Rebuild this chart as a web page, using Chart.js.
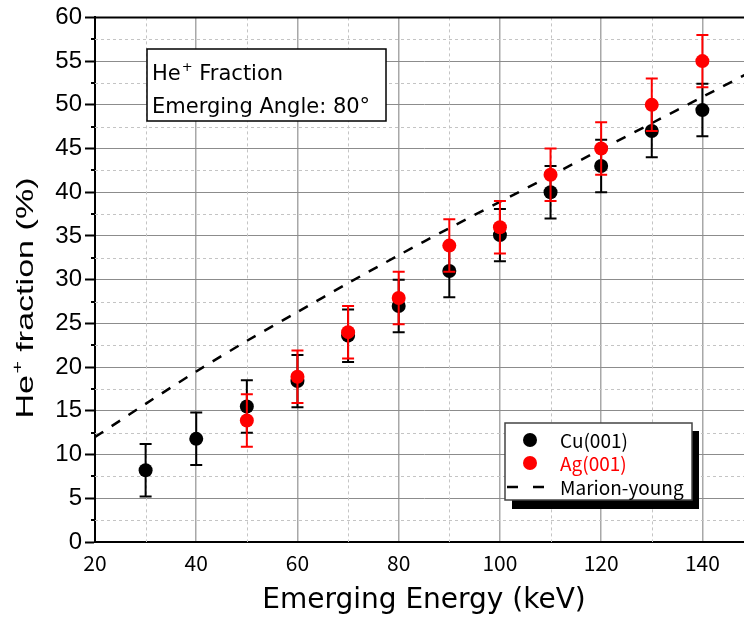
<!DOCTYPE html>
<html>
<head>
<meta charset="utf-8">
<title>He+ fraction</title>
<script src="https://cdn.jsdelivr.net/npm/chart.js@4.4.1/dist/chart.umd.min.js"></script>
<style>
  html, body { margin: 0; padding: 0; overflow: hidden; background: #fff; }
  #wrap { width: 760px; height: 618px; }
</style>
</head>
<body>
<div id="wrap"><canvas id="fraction-chart" width="760" height="618"></canvas></div>
<script>
// values
const cuEnergy = [30, 40, 50, 60, 70, 80, 90, 100, 110, 120, 130, 140];
const cuFraction = [8.2, 11.8, 15.5, 18.4, 23.6, 27.0, 31.0, 35.1, 40.0, 43.0, 47.0, 49.4];
const cuError = [3, 3, 3, 3, 3, 3, 3, 3, 3, 3, 3, 3];

const agEnergy = [50, 60, 70, 80, 90, 100, 110, 120, 130, 140];
const agFraction = [13.9, 18.9, 24.0, 27.9, 33.9, 36.0, 42.0, 45.0, 50.0, 55.0];
const agError = [3, 3, 3, 3, 3, 3, 3, 3, 3, 3];

const marionEnergy = [20, 30, 40, 50, 60, 70, 80, 90, 100, 110, 120, 130, 140, 150];
const marionFraction = [12.0, 15.8, 19.5, 23.0, 26.3, 29.6, 32.8, 35.9, 38.9, 41.9, 44.9, 47.9, 50.9, 53.9];

const xTickLabels = [20, 40, 60, 80, 100, 120, 140];
const yTickLabels = [0, 5, 10, 15, 20, 25, 30, 35, 40, 45, 50, 55, 60];

const gothic = '"Noto Sans CJK JP", "Noto Sans", sans-serif';
const wide = '"DejaVu Sans", sans-serif';
const arial = '"Liberation Sans", Arial, sans-serif';

function pairs(xs, ys) {
	return xs.map((v, i) => ({ x: v, y: ys[i] }));
}

// writes "He" + superscript "+" + rest, starting at x (left aligned)
function heText(ctx, x, y, size, family, rest) {
	ctx.font = size + "px " + family;
	ctx.fillText("He", x, y);
	x += ctx.measureText("He").width + 1;
	ctx.font = Math.round(size * 0.62) + "px " + family;
	ctx.fillText("+", x, y - size * 0.45);
	x += ctx.measureText("+").width;
	ctx.font = size + "px " + family;
	ctx.fillText(rest, x, y);
}

// minor grid lines (dashed) and minor y ticks
const minorGrid = {
	id: "minorGrid",
	beforeDatasetsDraw(chart) {
		const { ctx, chartArea: a, scales: { x, y } } = chart;
		ctx.save();
		ctx.strokeStyle = "#c4c4c4";
		ctx.lineWidth = 1;
		ctx.setLineDash([3, 3]);
		for (let v = 30; v < 150; v += 20) {
			const px = Math.round(x.getPixelForValue(v)) + 0.5;
			ctx.beginPath();
			ctx.moveTo(px, a.top);
			ctx.lineTo(px, a.bottom);
			ctx.stroke();
		}
		for (let v = 2.5; v < 60; v += 5) {
			const py = Math.round(y.getPixelForValue(v)) + 0.5;
			ctx.beginPath();
			ctx.moveTo(a.left, py);
			ctx.lineTo(a.right, py);
			ctx.stroke();
		}
		ctx.setLineDash([]);
		ctx.strokeStyle = "#000";
		ctx.lineWidth = 2;
		for (let v = 2.5; v < 60; v += 5) {
			const py = Math.round(y.getPixelForValue(v));
			ctx.beginPath();
			ctx.moveTo(a.left - 4, py);
			ctx.lineTo(a.left, py);
			ctx.stroke();
		}
		ctx.restore();
	},
};

const errorBars = {
	id: "errorBars",
	beforeDatasetDraw(chart, args) {
		const ds = chart.data.datasets[args.index];
		if (!ds.errors) return;
		const { ctx, scales: { x, y } } = chart;
		ctx.save();
		ctx.strokeStyle = ds.borderColor;
		ctx.lineWidth = 2;
		ds.data.forEach((p, i) => {
			const px = x.getPixelForValue(p.x);
			const top = y.getPixelForValue(p.y + ds.errors[i]);
			const bot = y.getPixelForValue(p.y - ds.errors[i]);
			ctx.beginPath();
			ctx.moveTo(px, top);
			ctx.lineTo(px, bot);
			ctx.moveTo(px - 6, top);
			ctx.lineTo(px + 6, top);
			ctx.moveTo(px - 6, bot);
			ctx.lineTo(px + 6, bot);
			ctx.stroke();
		});
		ctx.restore();
	},
};

const boxes = {
	id: "boxes",
	afterDraw(chart) {
		const { ctx, chartArea: a, scales: { y } } = chart;
		ctx.save();
		// top frame line
		ctx.strokeStyle = "#000";
		ctx.lineWidth = 2;
		ctx.beginPath();
		ctx.moveTo(a.left, y.getPixelForValue(60));
		ctx.lineTo(a.right, y.getPixelForValue(60));
		ctx.stroke();

		// y axis title, glyphs stretched along the baseline like the original
		ctx.save();
		ctx.translate(33, 295);
		ctx.rotate(-Math.PI / 2);
		ctx.scale(1.42, 1);
		ctx.fillStyle = "#000";
		ctx.textBaseline = "alphabetic";
		ctx.font = "24px " + arial;
		const fullW = ctx.measureText("He+ fraction (%)").width;
		heText(ctx, -fullW / 2, 0, 24, arial, " fraction (%)");
		ctx.restore();

		// text box
		ctx.fillStyle = "#fff";
		ctx.fillRect(147, 49, 239, 72);
		ctx.lineWidth = 1.5;
		ctx.strokeRect(147, 49, 239, 72);
		ctx.fillStyle = "#000";
		ctx.textBaseline = "alphabetic";
		heText(ctx, 152, 80, 21, wide, " Fraction");
		ctx.font = "21px " + wide;
		ctx.fillText("Emerging Angle: 80°", 152, 113);

		// legend with shadow
		ctx.fillStyle = "#000";
		ctx.fillRect(512, 431, 187, 78);
		ctx.fillStyle = "#fff";
		ctx.fillRect(505, 423, 187, 77);
		ctx.lineWidth = 1.5;
		ctx.strokeStyle = "#444";
		ctx.strokeRect(505, 423, 187, 77);
		const rows = [440, 463, 487];
		chart.data.datasets.forEach((ds, i) => {
			const ry = rows[i];
			if (ds.errors) {
				ctx.fillStyle = ds.backgroundColor;
				ctx.beginPath();
				ctx.arc(530, ry, 7, 0, Math.PI * 2);
				ctx.fill();
			} else {
				ctx.strokeStyle = ds.borderColor;
				ctx.lineWidth = 2.5;
				ctx.setLineDash([11, 15]);
				ctx.beginPath();
				ctx.moveTo(507, ry);
				ctx.lineTo(545, ry);
				ctx.stroke();
				ctx.setLineDash([]);
			}
			ctx.fillStyle = ds.errors ? ds.backgroundColor : "#000";
			ctx.font = "19px " + gothic;
			ctx.textBaseline = "middle";
			ctx.fillText(ds.label, 560, ry + 1);
		});
		ctx.restore();
	},
};

new Chart(document.getElementById("fraction-chart"), {
	type: "scatter",
	data: {
		datasets: [
			{
				label: "Cu(001)",
				data: pairs(cuEnergy, cuFraction),
				errors: cuError,
				backgroundColor: "#000000",
				borderColor: "#000000",
				pointRadius: 7,
				pointBorderWidth: 0,
				order: 2,
			},
			{
				label: "Ag(001)",
				data: pairs(agEnergy, agFraction),
				errors: agError,
				backgroundColor: "#ff0000",
				borderColor: "#ff0000",
				pointRadius: 7,
				pointBorderWidth: 0,
				order: 1,
			},
			{
				label: "Marion-young",
				type: "line",
				data: pairs(marionEnergy, marionFraction),
				borderColor: "#000000",
				borderWidth: 2.5,
				borderDash: [10, 10],
				pointRadius: 0,
				fill: false,
				tension: 0.3,
				order: 3,
			},
		],
	},
	options: {
		responsive: false,
		animation: false,
		devicePixelRatio: 1,
		layout: { padding: { top: 15, right: 6, left: 0, bottom: 0 } },
		plugins: {
			legend: { display: false },
			tooltip: { enabled: false },
		},
		scales: {
			x: {
				type: "linear",
				min: 20,
				max: 150,
				afterFit: (s) => { s.height = 76; },
				afterBuildTicks: (s) => { s.ticks = xTickLabels.map((v) => ({ value: v })); },
				grid: { color: "#a8a8a8", lineWidth: 1.5, drawTicks: false },
				border: { color: "#000", width: 2 },
				ticks: {
					color: "#000",
					padding: 8,
					maxRotation: 0,
					font: { family: gothic, size: 21 },
				},
				title: {
					display: true,
					text: "Emerging Energy (keV)",
					color: "#000",
					font: { family: wide, size: 28 },
					padding: { top: 0, bottom: 0 },
				},
			},
			y: {
				min: 0,
				max: 60,
				afterFit: (s) => { s.width = 95; },
				afterBuildTicks: (s) => { s.ticks = yTickLabels.map((v) => ({ value: v })); },
				grid: {
					color: "#8c8c8c",
					lineWidth: 1,
					tickLength: 10,
					tickColor: "#000",
					tickWidth: 2,
				},
				border: { color: "#000", width: 2 },
				ticks: {
					color: "#000",
					padding: 3,
					font: { family: arial, size: 24 },
				},
				title: { display: false },
			},
		},
	},
	plugins: [minorGrid, errorBars, boxes],
});
</script>
</body>
</html>
